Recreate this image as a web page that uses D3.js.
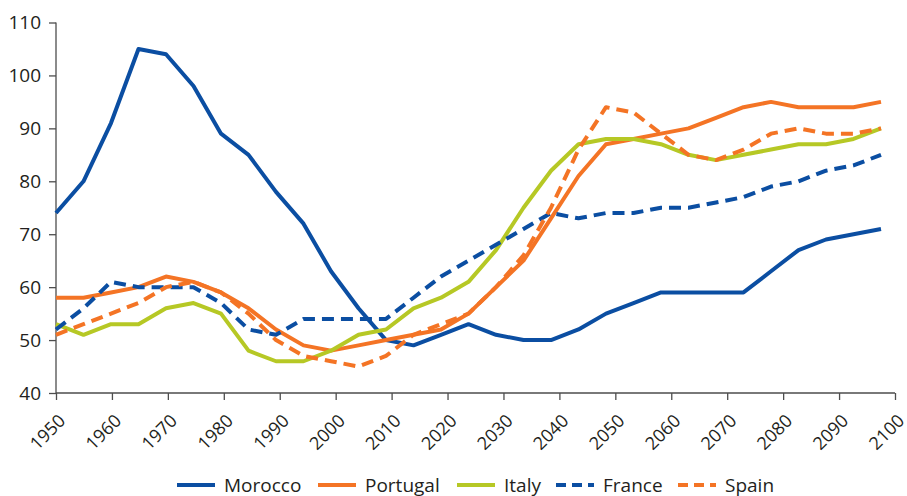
<!DOCTYPE html>
<html>
<head>
<meta charset="utf-8">
<script src="https://cdn.jsdelivr.net/npm/d3@7"></script>
<style>
  body { margin: 0; background: #fff; }
  #chart text { font-family: "Open Sans", sans-serif; fill: #231f20; }
</style>
</head>
<body>
<div id="chart"></div>
<script>
// --- Data (five-year steps, 1950-2100) ---
const years = d3.range(1950, 2101, 5);
const morocco  = [74, 80, 91, 105, 104, 98, 89, 85, 78, 72, 63, 56, 50, 49, 51, 53, 51, 50, 50, 52, 55, 57, 59, 59, 59, 59, 63, 67, 69, 70, 71];
const portugal = [58, 58, 59, 60, 62, 61, 59, 56, 52, 49, 48, 49, 50, 51, 52, 55, 60, 65, 73, 81, 87, 88, 89, 90, 92, 94, 95, 94, 94, 94, 95];
const italy    = [53, 51, 53, 53, 56, 57, 55, 48, 46, 46, 48, 51, 52, 56, 58, 61, 67, 75, 82, 87, 88, 88, 87, 85, 84, 85, 86, 87, 87, 88, 90];
const france   = [52, 56, 61, 60, 60, 60, 57, 52, 51, 54, 54, 54, 54, 58, 62, 65, 68, 71, 74, 73, 74, 74, 75, 75, 76, 77, 79, 80, 82, 83, 85];
const spain    = [51, 53, 55, 57, 60, 61, 59, 55, 50, 47, 46, 45, 47, 51, 53, 55, 60, 66, 75, 86, 94, 93, 89, 85, 84, 86, 89, 90, 89, 89, 90];

const seriesNames = ["Morocco", "Portugal", "Italy", "France", "Spain"];
const seriesValues = [morocco, portugal, italy, france, spain];
const xTicks = d3.range(1950, 2101, 10);
const yTicks = d3.range(40, 111, 10);

// --- Styles ---
const colors = ["#0b4ea2", "#f47425", "#b6c825", "#0b4ea2", "#f47425"];
const dashes = [null, null, null, "12,7", "12,7"];

// --- Setup SVG ---
const W = 907, H = 496;
const margin = { top: 22.5, left: 56, right: 12, bottom: 103 };
const width = W - margin.left - margin.right;
const height = H - margin.top - margin.bottom;

const svg = d3.select("#chart").append("svg")
  .attr("width", W)
  .attr("height", H);

const g = svg.append("g")
  .attr("transform", `translate(${margin.left},${margin.top})`);

// axis scale (years) and point scale for the data categories
const xAxisScale = d3.scaleLinear().domain([1950, 2100]).range([0, width]);
const x = d3.scalePoint().domain(years).range([0, 825]);
const y = d3.scaleLinear().domain([40, 110]).range([height, 0]);

// --- Axes ---
const axisColor = "#4d4d4d";

const yAxis = g.append("g")
  .call(d3.axisLeft(y).tickValues(yTicks).tickSize(7).tickPadding(8));
yAxis.selectAll("text").attr("font-size", "19px");

const xAxis = g.append("g")
  .attr("transform", `translate(0,${height})`)
  .call(d3.axisBottom(xAxisScale).tickValues(xTicks).tickFormat(d3.format("d")).tickSize(7));
xAxis.selectAll("text")
  .attr("font-size", "18px")
  .attr("text-anchor", "end")
  .attr("x", 0).attr("y", 0).attr("dy", 0)
  .attr("transform", "translate(10,29) rotate(-45)");

g.selectAll(".domain, .tick line")
  .attr("stroke", axisColor)
  .attr("stroke-width", 1.3);
g.selectAll(".domain").each(function() {
  // drop the outer ticks of the domain path
  const sel = d3.select(this);
  if (this.parentNode === yAxis.node()) sel.attr("d", `M0,0V${height}`);
  else sel.attr("d", `M0,0H${width}`);
});

// --- Lines ---
const line = d3.line()
  .x((d, i) => x(years[i]))
  .y(d => y(d));

seriesValues.forEach((vals, k) => {
  g.append("path")
    .datum(vals)
    .attr("fill", "none")
    .attr("stroke", colors[k])
    .attr("stroke-width", 4)
    .attr("stroke-linejoin", "round")
    .attr("stroke-dasharray", dashes[k])
    .attr("d", line);
});

// --- Legend ---
const legendX = [177, 318, 457, 556, 678];
const legendY = 485;
seriesNames.forEach((name, k) => {
  const lg = svg.append("g").attr("transform", `translate(${legendX[k]},${legendY})`);
  lg.append("line")
    .attr("x1", 0).attr("x2", 38)
    .attr("y1", 0).attr("y2", 0)
    .attr("stroke", colors[k])
    .attr("stroke-width", 4)
    .attr("stroke-dasharray", dashes[k] ? "10,6" : null);
  lg.append("text")
    .attr("x", 47)
    .attr("y", 0)
    .attr("dy", "0.35em")
    .attr("font-size", "19px")
    .text(name);
});
</script>
</body>
</html>
